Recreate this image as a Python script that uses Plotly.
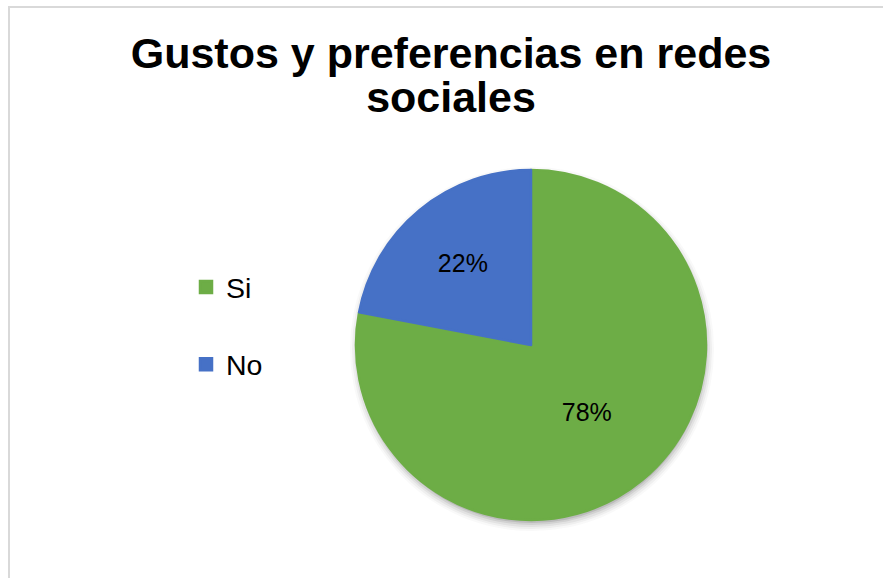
import plotly.graph_objects as go

# Survey answers and their shares
categories = ["Si", "No"]
shares = [78, 22]
slice_colors = ["#6dad46", "#4671c6"]

title_text = "Gustos y preferencias en redes sociales"

W, H = 883, 578

# Pie placement in pixels (centre and radius)
cx, cy, r = 531, 345, 175
dom_x = [(cx - r) / W, (cx + r) / W]
dom_y = [(H - cy - r) / H, (H - cy + r) / H]

# Legend entries carry a blank second line so the items sit further apart
legend_labels = [c + "<br> " for c in categories]

fig = go.Figure()
fig.add_trace(go.Pie(
    labels=legend_labels,
    values=shares,
    sort=False,
    direction="clockwise",
    rotation=0,
    marker=dict(colors=slice_colors,
                line=dict(color=slice_colors, width=2.5)),
    textinfo="percent",
    texttemplate="%{percent:.0%}",
    textposition="inside",
    insidetextorientation="horizontal",
    textfont=dict(family="Liberation Sans, Arial", size=25, color="#000000"),
    domain=dict(x=dom_x, y=dom_y),
    hoverinfo="label+percent",
))

# Soft drop shadow under the pie, built from stacked translucent discs
shapes = []
for grow, alpha in [(7, 0.03), (5, 0.05), (3, 0.07), (1, 0.10), (-1, 0.14)]:
    rr = r + grow
    ox, oy = 1, 4
    shapes.append(dict(
        type="circle", xref="paper", yref="paper", layer="below",
        x0=(cx + ox - rr) / W, x1=(cx + ox + rr) / W,
        y0=(H - cy - oy - rr) / H, y1=(H - cy - oy + rr) / H,
        fillcolor=f"rgba(60,60,60,{alpha})", line=dict(width=0),
    ))

# Chart frame
shapes.append(dict(
    type="rect", xref="paper", yref="paper", layer="below",
    x0=9 / W, x1=(W + 20) / W, y0=-0.05, y1=(H - 7) / H,
    line=dict(color="#d9d9d9", width=2), fillcolor="rgba(0,0,0,0)",
))

big = "font-size:43px"
title_lines = title_text.rsplit(" ", 1)
title_html = "<br>".join(f"<span style='{big}'>{t}</span>" for t in title_lines)

fig.update_layout(
    width=W, height=H,
    margin=dict(l=0, r=0, t=0, b=0),
    paper_bgcolor="#ffffff",
    plot_bgcolor="#ffffff",
    title=dict(
        text=f"<b>{title_html}</b>",
        x=451 / W, xanchor="center",
        y=1 - 68 / H, yanchor="top", yref="container",
        font=dict(family="Liberation Sans, Arial", size=34, color="#000000"),
    ),
    showlegend=True,
    legend=dict(
        x=186 / W, xanchor="left",
        y=1 - 262 / H, yanchor="top",
        valign="top",
        font=dict(family="Liberation Sans, Arial", size=28.5, color="#000000"),
        bgcolor="rgba(0,0,0,0)",
        traceorder="normal",
    ),
    shapes=shapes,
)

fig.write_html("out.html")
